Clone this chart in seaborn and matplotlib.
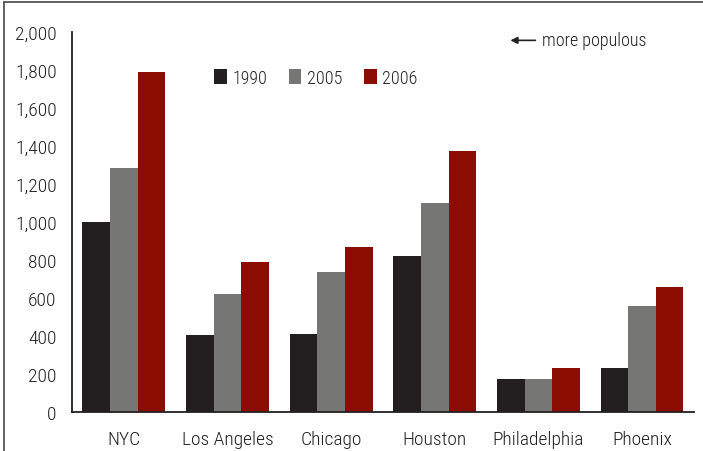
import matplotlib
matplotlib.use("Agg")
import matplotlib.pyplot as plt
import matplotlib.ticker as mticker
from matplotlib.lines import Line2D
from matplotlib import font_manager
import numpy as np
import pandas as pd
import seaborn as sns

# dữ liệu
cities = ['NYC', 'Los Angeles', 'Chicago', 'Houston', 'Philadelphia', 'Phoenix']
years = ['1990', '2005', '2006']
v1990 = [1000, 406, 411, 820, 176, 233]
v2005 = [1286, 621, 738, 1100, 176, 559]
v2006 = [1788, 791, 870, 1376, 233, 658]
colors = ['#231f20', '#767674', '#8b0c00']

data = pd.DataFrame({
    'city': cities * 3,
    'year': [y for y in years for _ in cities],
    'value': v1990 + v2005 + v2006,
})

sns.set_style('white')
installed = {f.name for f in font_manager.fontManager.ttflist}
fams = [f for f in ['Liberation Sans Narrow', 'Roboto Condensed', 'DejaVu Sans Condensed',
                    'Open Sans Condensed', 'Noto Sans', 'DejaVu Sans'] if f in installed]
plt.rcParams['font.family'] = fams
plt.rcParams['font.stretch'] = 'condensed'
plt.rcParams['font.weight'] = 'light'
ink = '#231f20'

fig = plt.figure(figsize=(7.03, 4.52), dpi=100)
ax = fig.add_axes([0.1024, 0.0863, 0.8846, 0.8407])

sns.barplot(data=data, x='city', y='value', hue='year', order=cities,
            hue_order=years, palette=colors, width=0.8, saturation=1,
            linewidth=0, ax=ax)

ax.set_xlim(-0.5, len(cities) - 0.5)
ax.set_ylim(0, 2000)
ax.set_yticks(np.arange(0, 2001, 200))
ax.yaxis.set_major_formatter(mticker.FuncFormatter(lambda v, p: f'{int(v):,}'))
ax.set_xlabel('')
ax.set_ylabel('')

# vạch chia giữa các nhóm
ax.set_xticks(np.arange(-0.5, len(cities), 1), minor=True)
ax.tick_params(axis='x', which='minor', length=8, width=1.2, color=ink, direction='out')
ax.tick_params(axis='x', which='major', length=0, pad=13, labelsize=14, labelcolor=ink)
ax.tick_params(axis='y', length=5, width=1.2, color=ink, direction='out',
               labelsize=14, labelcolor=ink, pad=6)

sns.despine(ax=ax)
for s in ['left', 'bottom']:
    ax.spines[s].set_color(ink)
    ax.spines[s].set_linewidth(1.3)

leg = ax.legend(loc='upper center', bbox_to_anchor=(0.392, 0.945), ncol=3,
                frameon=False, fontsize=13, handlelength=0.7, handleheight=0.9,
                columnspacing=1.2, handletextpad=0.3)
for t in leg.get_texts():
    t.set_color(ink)

ax.annotate('more populous', xy=(0.705, 0.978), xycoords='axes fraction',
            xytext=(0.755, 0.978), textcoords='axes fraction',
            fontsize=13, color=ink, va='center', ha='left',
            arrowprops=dict(arrowstyle='-|>', color=ink, lw=1.2,
                            mutation_scale=10, shrinkA=2, shrinkB=0))

# khung ngoài
fig.add_artist(Line2D([0.0057, 1.0], [0.9934, 0.9934], color='#555555', lw=1.3))
fig.add_artist(Line2D([0.0057, 0.0057], [0.0, 0.9934], color='#555555', lw=1.3))

fig.savefig('out.png', dpi=100)
